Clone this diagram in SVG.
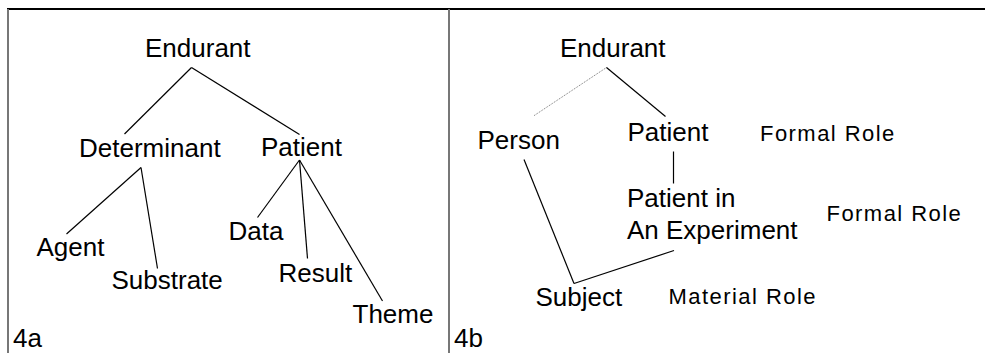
<svg xmlns="http://www.w3.org/2000/svg" width="985" height="353" viewBox="0 0 985 353">
<style>
.t{font-family:"Liberation Sans",Arial,sans-serif;font-size:26px;fill:#000}
.r{font-family:"Liberation Sans",Arial,sans-serif;font-size:22px;letter-spacing:1.45px;fill:#000}
.e{stroke:#000;stroke-width:1.2;fill:none}
.d{stroke:#777;stroke-width:1;stroke-dasharray:1 1;fill:none}
.frame{stroke:#777;stroke-width:2;fill:none}
</style>
<rect width="985" height="353" fill="#fff"/>
<g id="frame">
<line x1="7" y1="9" x2="985" y2="9" stroke="#000" stroke-width="2"/>
<line class="frame" x1="8" y1="9" x2="8" y2="353"/>
<line class="frame" x1="449" y1="9" x2="449" y2="353"/>
</g>
<g id="connectors">
<line class="e" x1="191.5" y1="67.5" x2="124.5" y2="134"/>
<line class="e" x1="191.5" y1="67.5" x2="299.5" y2="134.5"/>
<line class="e" x1="141" y1="167.5" x2="66.5" y2="234"/>
<line class="e" x1="141" y1="167.5" x2="157.5" y2="268.5"/>
<line class="e" x1="299.5" y1="160" x2="257.5" y2="217.5"/>
<line class="e" x1="299.5" y1="160" x2="307.5" y2="258.5"/>
<line class="e" x1="299.5" y1="160" x2="382.5" y2="301"/>
<line class="d" x1="606.5" y1="67.5" x2="533.5" y2="116"/>
<line class="e" x1="606.5" y1="67.5" x2="665.5" y2="116.5"/>
<line class="e" x1="673.5" y1="151.5" x2="673.5" y2="183.5"/>
<line class="e" x1="524" y1="159.5" x2="574" y2="283.5"/>
<line class="e" x1="574" y1="283.5" x2="674" y2="250.5"/>
</g>
<g id="n-endurant-a"><text class="t" x="145" y="57">Endurant</text></g>
<g id="n-determinant"><text class="t" x="79" y="157">Determinant</text></g>
<g id="n-patient-a"><text class="t" x="261" y="156">Patient</text></g>
<g id="n-agent"><text class="t" x="36.5" y="256">Agent</text></g>
<g id="n-substrate"><text class="t" x="111.5" y="289">Substrate</text></g>
<g id="n-data"><text class="t" x="228.5" y="239.5">Data</text></g>
<g id="n-result"><text class="t" x="278.5" y="281.5">Result</text></g>
<g id="n-theme"><text class="t" x="352.5" y="322.5">Theme</text></g>
<g id="l-4a"><text class="t" x="13" y="347">4a</text></g>
<g id="n-endurant-b"><text class="t" x="560" y="57">Endurant</text></g>
<g id="n-person"><text class="t" x="477.5" y="149">Person</text></g>
<g id="n-patient-b"><text class="t" x="627.5" y="140.5">Patient</text></g>
<g id="n-patient-exp"><text class="t" x="627" y="207">Patient in</text><text class="t" x="627" y="238.5">An Experiment</text></g>
<g id="n-subject"><text class="t" x="535.5" y="306">Subject</text></g>
<g id="l-formal1"><text class="r" x="760" y="140.5">Formal Role</text></g>
<g id="l-formal2"><text class="r" x="826.5" y="220.5">Formal Role</text></g>
<g id="l-material"><text class="r" x="668.5" y="303.5">Material Role</text></g>
<g id="l-4b"><text class="t" x="454" y="347">4b</text></g>
</svg>
